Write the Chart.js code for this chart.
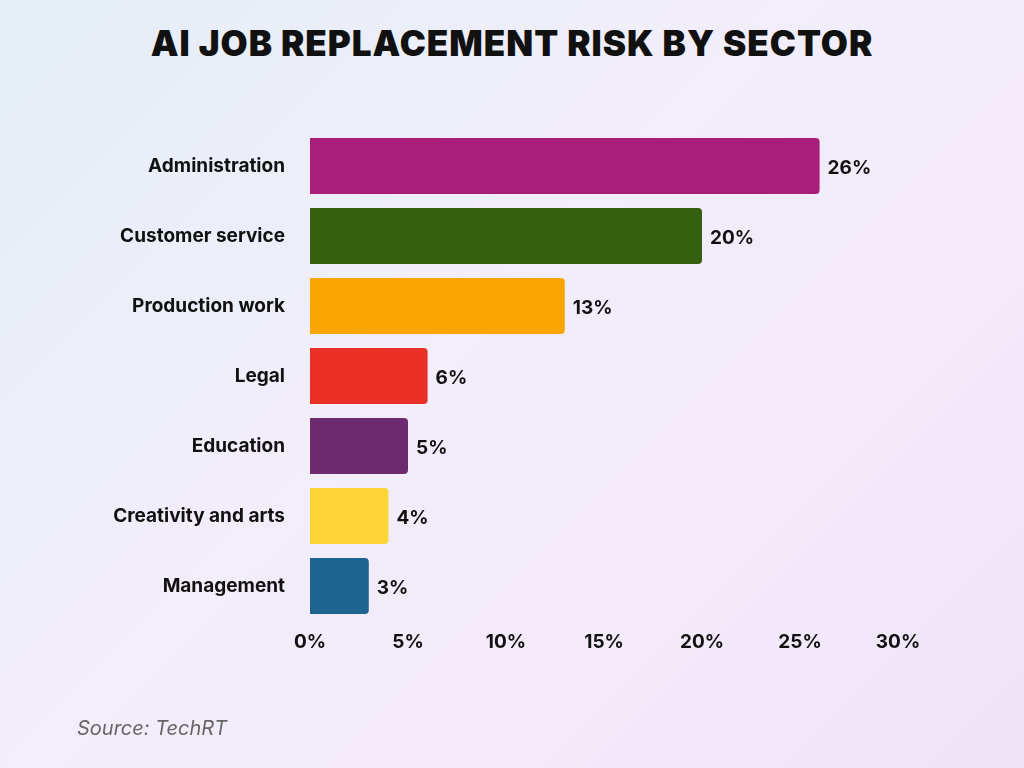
<!DOCTYPE html>
<html><head><meta charset="utf-8">
<script src="https://cdn.jsdelivr.net/npm/chart.js@4"></script>
<style>
html,body{margin:0;padding:0;width:1024px;height:768px;overflow:hidden}
body{background:linear-gradient(135deg,#e4eef6 0%,#f1eefa 40%,#f3eafa 70%,#ece4f6 100%);position:relative;font-family:Inter,"Noto Sans",sans-serif}
#t{position:absolute;top:22px;left:0;width:1024px;text-align:center;font-size:35px;font-weight:900;color:#111;letter-spacing:1px;font-family:Inter,sans-serif}
#s{position:absolute;left:77px;top:716px;font-size:20px;font-style:italic;color:#666;font-family:Inter,sans-serif}
canvas{position:absolute;left:0;top:0}
</style></head><body>
<div id="t">AI JOB REPLACEMENT RISK BY SECTOR</div>
<canvas id="c" width="1024" height="768"></canvas>
<div id="s">Source: TechRT</div>
<script>
const categories=["Administration","Customer service","Production work","Legal","Education","Creativity and arts","Management"];
const values=[26,20,13,6,5,4,3];
const colors=["#A91E78","#35600F","#FBA504","#E83024","#6D2A6E","#FDD535","#1F6591"];
const ticks=[0,5,10,15,20,25,30];
const labelPlugin={id:'lbl',afterDatasetsDraw(ch){const c=ch.ctx;const m=ch.getDatasetMeta(0);c.save();c.font='bold 19px Inter, sans-serif';c.fillStyle='#111';c.textBaseline='middle';m.data.forEach((b,i)=>{c.fillText(values[i]+'%',b.x+8,b.y+2);});c.restore();}};
new Chart(document.getElementById('c'),{type:'bar',
data:{labels:categories,datasets:[{data:values,backgroundColor:colors,barPercentage:0.8,categoryPercentage:1,borderRadius:{topRight:4,bottomRight:4,topLeft:0,bottomLeft:0},borderSkipped:false}]},
options:{indexAxis:'y',responsive:false,animation:false,
layout:{padding:{top:131,right:126,bottom:107,left:0}},
plugins:{legend:{display:false},tooltip:{enabled:false}},
scales:{
x:{min:0,max:30,afterFit(a){a.height=40},afterBuildTicks(a){a.ticks=ticks.map(v=>({value:v}))},grid:{display:false},border:{display:false},ticks:{color:'#111',font:{size:19,weight:'bold',family:'Inter'},callback:v=>v+'%',padding:2}},
y:{afterFit(a){a.width=310},grid:{display:false},border:{display:false},ticks:{color:'#111',font:{size:19,weight:'bold',family:'Inter'},padding:17}}
}},plugins:[labelPlugin]});
</script></body></html>
